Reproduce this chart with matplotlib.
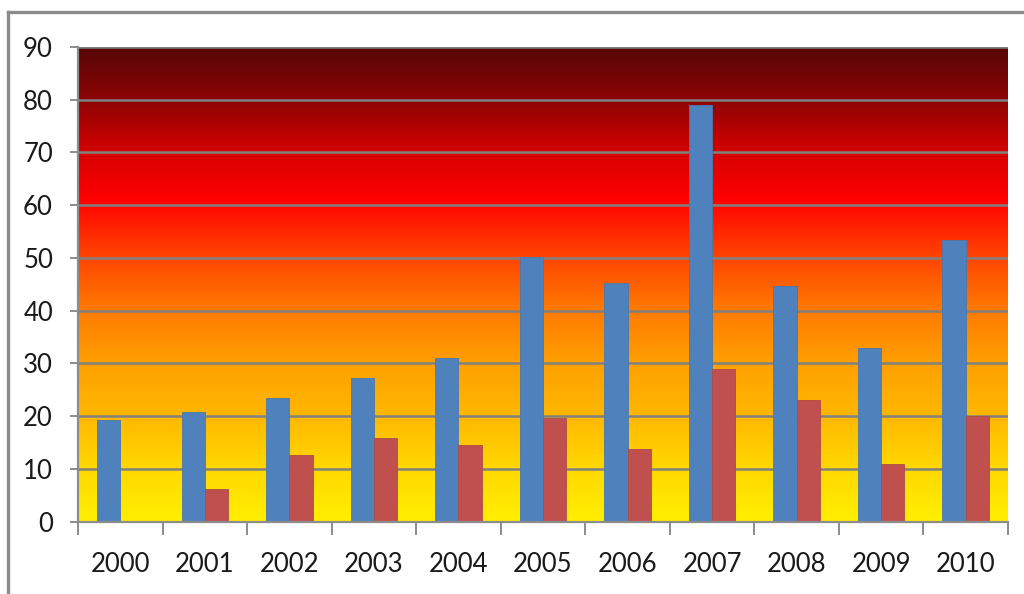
import matplotlib
matplotlib.use("Agg")
import matplotlib.pyplot as plt
from matplotlib.colors import LinearSegmentedColormap
from matplotlib.lines import Line2D
import numpy as np

# yearly values for the two series
years = ["2000", "2001", "2002", "2003", "2004", "2005",
         "2006", "2007", "2008", "2009", "2010"]
series_a = [19.2, 20.7, 23.4, 27.3, 31.0, 50.1, 45.2, 79.0, 44.6, 33.0, 53.4]
series_b = [0, 6.1, 12.7, 15.8, 14.6, 19.6, 13.7, 28.9, 23.1, 10.9, 20.0]
yticks = [0, 10, 20, 30, 40, 50, 60, 70, 80, 90]

plt.rcParams['font.family'] = ['Lato', 'DejaVu Sans']

fig = plt.figure(figsize=(10.24, 5.94), dpi=100)
ax = fig.add_axes([78 / 1024, 72.5 / 594, 930 / 1024, 474.5 / 594])

# background gradient: yellow at the bottom to dark red at the top
grad = LinearSegmentedColormap.from_list("heat", [
    (0.00, "#ffef00"),
    (0.11, "#ffd800"),
    (0.22, "#ffb800"),
    (0.33, "#ffa000"),
    (0.45, "#ff7800"),
    (0.56, "#ff4200"),
    (0.68, "#ff0000"),
    (0.78, "#d40000"),
    (0.89, "#8c0404"),
    (1.00, "#560606"),
])
g = np.linspace(0, 1, 256).reshape(-1, 1)
ax.imshow(g, cmap=grad, origin="lower", aspect="auto",
          extent=[0, 1, 0, 1], transform=ax.transAxes, zorder=0)

x = np.arange(len(years))
w = 0.275
ax.bar(x - w / 2, series_a, w, color="#4f81bd", edgecolor="#4a78ad",
       linewidth=0.6, zorder=3)
ax.bar(x + w / 2, series_b, w, color="#c0504d", edgecolor="#b04a47",
       linewidth=0.6, zorder=3)

ax.set_xlim(-0.5, len(years) - 0.5)
ax.set_ylim(0, 90)
ax.set_yticks(yticks)
ax.set_yticklabels([str(v) for v in yticks])
ax.yaxis.grid(True, color="#808080", linewidth=1.8, zorder=2)
ax.set_axisbelow(False)

# labels at the centres, tick marks between categories
ax.set_xticks(x)
ax.set_xticklabels(years)
ax.set_xticks(np.arange(-0.5, len(years)), minor=True)
ax.tick_params(axis="x", which="major", length=0, pad=22,
               labelsize=18.5, labelcolor="#1a1a1a")
ax.tick_params(axis="x", which="minor", length=9, width=1.4, color="#8c8c8c")
ax.tick_params(axis="y", length=6, width=1.4, color="#8c8c8c", pad=12,
               labelsize=18.5, labelcolor="#1a1a1a")

for side in ["top", "right"]:
    ax.spines[side].set_visible(False)
for side in ["left", "bottom"]:
    ax.spines[side].set_color("#8c8c8c")
    ax.spines[side].set_linewidth(1.6)
    ax.spines[side].set_zorder(4)

# outer frame along the top and left edges
fig.add_artist(Line2D([8 / 1024, 1], [1 - 11.5 / 594, 1 - 11.5 / 594],
                      color="#8c8c8c", linewidth=2.4,
                      transform=fig.transFigure))
fig.add_artist(Line2D([8 / 1024, 8 / 1024], [0, 1 - 11.5 / 594],
                      color="#8c8c8c", linewidth=2.4,
                      transform=fig.transFigure))

fig.savefig("out.png", dpi=100)
